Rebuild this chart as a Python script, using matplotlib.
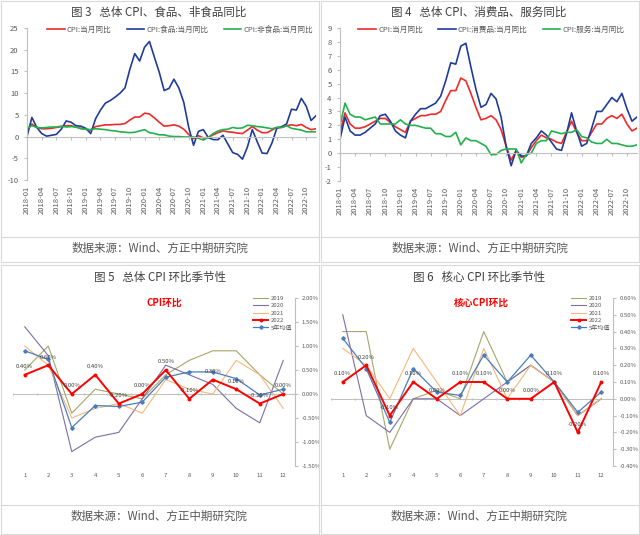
import matplotlib
matplotlib.use("Agg")
import matplotlib.pyplot as plt
from matplotlib.lines import Line2D
import numpy as np

plt.rcParams['font.family'] = ['Noto Sans CJK SC', 'DejaVu Sans']
plt.rcParams['axes.unicode_minus'] = False

# ---------------------------------------------------------------------------
# datos
# ---------------------------------------------------------------------------
months = [f"{y}-{m:02d}" for y in range(2018, 2023) for m in range(1, 13)]

cpi_yoy = [1.5, 2.9, 2.1, 1.8, 1.8, 1.9, 2.1, 2.3, 2.5, 2.5, 2.2, 1.9,
           1.7, 1.5, 2.3, 2.5, 2.7, 2.7, 2.8, 2.8, 3.0, 3.8, 4.5, 4.5,
           5.4, 5.2, 4.3, 3.3, 2.4, 2.5, 2.7, 2.4, 1.7, 0.5, -0.5, 0.2,
           -0.3, -0.2, 0.4, 0.9, 1.3, 1.1, 1.0, 0.8, 0.7, 1.5, 2.3, 1.5,
           0.9, 0.9, 1.5, 2.1, 2.1, 2.5, 2.7, 2.5, 2.8, 2.1, 1.6, 1.8]
food_yoy = [0.0, 4.4, 2.1, 0.7, 0.1, 0.3, 0.5, 1.7, 3.6, 3.3, 2.5, 2.4,
            1.9, 0.7, 4.1, 6.1, 7.7, 8.3, 9.1, 10.0, 11.2, 15.5, 19.1, 17.4,
            20.6, 21.9, 18.3, 14.8, 10.6, 11.1, 13.2, 11.2, 7.9, 2.2, -2.0, 1.2,
            1.6, -0.2, -0.7, -0.7, 0.3, -1.7, -3.7, -4.1, -5.2, -2.4, 1.6, -1.2,
            -3.8, -3.9, -1.5, 1.9, 2.3, 2.9, 6.3, 6.1, 8.8, 7.0, 3.7, 4.8]
nonfood_yoy = [1.9, 2.5, 2.1, 2.0, 2.1, 2.2, 2.2, 2.4, 2.2, 2.3, 2.2, 1.8,
               1.7, 1.6, 1.8, 1.7, 1.6, 1.4, 1.3, 1.1, 1.0, 0.9, 1.0, 1.3,
               1.6, 0.9, 0.7, 0.4, 0.4, 0.1, 0.0, 0.0, -0.1, -0.1, -0.1, -0.4,
               -0.8, -0.2, 0.7, 1.3, 1.6, 1.7, 2.1, 1.9, 2.0, 2.6, 2.5, 2.3,
               2.2, 2.0, 1.8, 2.1, 2.1, 2.5, 1.9, 1.7, 1.5, 1.1, 1.1, 1.1]
goods_yoy = [1.0, 2.6, 1.6, 1.3, 1.3, 1.5, 1.8, 2.1, 2.7, 2.8, 2.3, 1.6,
             1.3, 1.1, 2.3, 2.8, 3.2, 3.2, 3.4, 3.6, 4.1, 5.2, 6.5, 6.4,
             7.7, 7.9, 6.2, 4.6, 3.3, 3.5, 4.3, 3.9, 2.6, 0.5, -0.9, 0.2,
             -0.2, -0.2, 0.7, 1.1, 1.6, 1.3, 0.8, 0.3, 0.2, 1.4, 2.9, 1.6,
             0.5, 0.7, 1.8, 3.0, 3.0, 3.5, 4.0, 3.7, 4.3, 3.2, 2.3, 2.6]
service_yoy = [2.0, 3.6, 2.8, 2.6, 2.6, 2.4, 2.5, 2.6, 2.1, 2.1, 2.1, 2.1,
               2.4, 2.1, 2.0, 2.0, 1.9, 1.8, 1.8, 1.4, 1.4, 1.2, 1.2, 1.5,
               0.6, 1.1, 0.9, 0.9, 0.7, 0.5, -0.1, -0.1, 0.2, 0.3, 0.3, 0.3,
               -0.7, -0.1, 0.0, 0.7, 0.9, 0.9, 1.6, 1.5, 1.4, 1.5, 1.5, 1.7,
               1.2, 1.1, 0.8, 0.7, 0.7, 1.0, 0.7, 0.7, 0.6, 0.5, 0.5, 0.6]

mes = list(range(1, 13))
cpi_mom = {
    "2019": [0.5, 1.0, -0.4, 0.1, 0.0, -0.1, 0.4, 0.7, 0.9, 0.9, 0.4, 0.0],
    "2020": [1.4, 0.8, -1.2, -0.9, -0.8, -0.1, 0.6, 0.4, 0.2, -0.3, -0.6, 0.7],
    "2021": [1.0, 0.6, -0.5, -0.3, -0.2, -0.4, 0.3, 0.1, 0.0, 0.7, 0.4, -0.3],
    "2022": [0.4, 0.6, 0.0, 0.4, -0.2, 0.0, 0.5, -0.1, 0.3, 0.1, -0.2, 0.0],
    "5年均值": [0.9, 0.72, -0.7, -0.24, -0.26, -0.17, 0.35, 0.46, 0.46, 0.32, -0.02, 0.1],
}
core_mom = {
    "2019": [0.4, 0.4, -0.3, 0.0, 0.05, 0.0, 0.4, 0.1, 0.2, 0.1, -0.1, 0.0],
    "2020": [0.5, -0.1, -0.2, 0.0, 0.0, -0.1, 0.0, 0.1, 0.2, 0.1, -0.1, 0.0],
    "2021": [0.3, 0.2, 0.0, 0.3, 0.1, -0.1, 0.3, 0.0, 0.2, 0.1, -0.1, 0.0],
    "2022": [0.1, 0.2, -0.1, 0.1, 0.0, 0.1, 0.1, 0.0, 0.0, 0.1, -0.2, 0.1],
    "5年均值": [0.36, 0.18, -0.14, 0.18, 0.04, 0.02, 0.26, 0.10, 0.26, 0.10, -0.08, 0.04],
}

# ---------------------------------------------------------------------------
# figura
# ---------------------------------------------------------------------------
W, H = 640, 535
fig = plt.figure(figsize=(W / 100, H / 100), dpi=100)

def caja(l, t, r, b):
    return [l / W, 1 - b / H, (r - l) / W, (b - t) / H]

def px(x, y):
    return x / W, 1 - y / H

GRIS = '#bfbfbf'
TXT = '#595959'

# bordes de los paneles
for (x0, y0, x1, y1) in [(1, 1, 319, 262), (321, 1, 639, 262),
                         (1, 265, 319, 534), (321, 265, 639, 534)]:
    fig.add_artist(plt.Rectangle(px(x0, y1), (x1 - x0) / W, (y1 - y0) / H,
                                 fill=False, edgecolor='#d9d9d9', linewidth=0.8,
                                 transform=fig.transFigure))
for (x0, x1, y) in [(1, 319, 237), (321, 639, 237), (1, 319, 505), (321, 639, 505)]:
    fig.add_artist(Line2D([x0 / W, x1 / W], [1 - y / H] * 2, color='#d9d9d9',
                          linewidth=0.8, transform=fig.transFigure))

titulos = [("图 3   总体 CPI、食品、非食品同比", 159, 12),
           ("图 4   总体 CPI、消费品、服务同比", 479, 12),
           ("图 5   总体 CPI 环比季节性", 160, 277),
           ("图 6   核心 CPI 环比季节性", 479, 277)]
for t, x, y in titulos:
    fig.text(*px(x, y), t, ha='center', va='center', fontsize=8.3, color='#404040')

for x, y in [(160, 248), (480, 248), (159, 516), (479, 516)]:
    fig.text(*px(x, y), "数据来源：Wind、方正中期研究院", ha='center', va='center',
             fontsize=8.3, color=TXT, style='italic')

# ---------------------------------------------------------------------------
# paneles superiores (interanual)
# ---------------------------------------------------------------------------
def panel_yoy(rect, series, ylim, yticks, leg_x):
    ax = fig.add_axes(rect)
    x = np.arange(len(months))
    for vals, color, lab in series:
        ax.plot(x, vals, color=color, linewidth=1.2, label=lab)
    ax.set_xlim(0, len(months) - 1)
    ax.set_ylim(*ylim)
    ax.set_yticks(yticks)
    ax.tick_params(axis='y', labelsize=5.5, labelcolor=TXT, color=GRIS, length=2, pad=4)
    for s in ['top', 'right']:
        ax.spines[s].set_visible(False)
    ax.spines['left'].set_color(GRIS)
    ax.spines['bottom'].set_position(('data', 0))
    ax.spines['bottom'].set_color(GRIS)
    ticks = list(range(0, len(months), 3))
    ax.set_xticks(ticks)
    ax.tick_params(axis='x', labelbottom=False, color=GRIS, length=2)
    for i in ticks:
        ax.annotate(months[i], (i, ylim[0]), xytext=(0, -4), textcoords='offset points',
                    rotation=90, ha='center', va='top', fontsize=5.5, color=TXT,
                    annotation_clip=False)
    ax.legend(loc='center', bbox_to_anchor=(leg_x, 0.99), ncol=3, frameon=False,
              fontsize=5.5, handlelength=2.3, columnspacing=2.0, handletextpad=0.3,
              labelcolor=TXT)
    return ax

ROJO, AZUL, VERDE = '#ee2a2a', '#1f3d98', '#22b14c'

panel_yoy(caja(27, 28, 316, 180),
          [(cpi_yoy, ROJO, "CPI:当月同比"), (food_yoy, AZUL, "CPI:食品:当月同比"),
           (nonfood_yoy, VERDE, "CPI:非食品:当月同比")],
          (-10, 25), list(range(-10, 26, 5)), 0.53)
panel_yoy(caja(340, 28, 637, 181),
          [(cpi_yoy, ROJO, "CPI:当月同比"), (goods_yoy, AZUL, "CPI:消费品:当月同比"),
           (service_yoy, VERDE, "CPI:服务:当月同比")],
          (-2, 9), list(range(-2, 10)), 0.51)

# ---------------------------------------------------------------------------
# paneles inferiores (estacionalidad)
# ---------------------------------------------------------------------------
estilos = {
    "2019": dict(color='#a5a76a', linewidth=0.8),
    "2020": dict(color='#7d6ea6', linewidth=0.8),
    "2021": dict(color='#f6b77c', linewidth=0.8),
    "2022": dict(color='#ff0000', linewidth=1.4, marker='o', markersize=1.8),
    "5年均值": dict(color='#4a7ebb', linewidth=0.9, marker='D', markersize=1.8),
}

def panel_mom(rect, datos, ylim, yticks, titulo, leg_xy):
    ax = fig.add_axes(rect)
    for k, vals in datos.items():
        ax.plot(mes, vals, label=k, zorder=3 if k == "2022" else 2, **estilos[k])
    ax.set_xlim(0.5, 12.5)
    ax.set_ylim(*ylim)
    ax.axhline(0, color=GRIS, linewidth=0.7, zorder=1)
    ax.plot(np.arange(0.5, 13, 1), [0] * 13, linestyle='none', marker='|',
            markersize=2, color=GRIS, zorder=1)
    for s in ['top', 'left', 'bottom']:
        ax.spines[s].set_visible(False)
    ax.spines['right'].set_color(GRIS)
    ax.yaxis.tick_right()
    ax.set_yticks(yticks)
    ax.set_yticklabels([f"{v:.2f}%" for v in yticks])
    ax.tick_params(axis='y', labelsize=4.3, labelcolor=TXT, color=GRIS, length=2, pad=3)
    ax.set_xticks(mes)
    ax.tick_params(axis='x', labelsize=4.3, labelcolor=TXT, length=0, pad=5)
    for m, v in zip(mes, datos["2022"]):
        ax.annotate(f"{v:.2f}%", (m, v), xytext=(0, 4), textcoords='offset points',
                    ha='center', va='bottom', fontsize=4.3, color='#404040', zorder=4)
    ax.text(0.535, 0.97, titulo, transform=ax.transAxes, ha='center', va='center',
            fontsize=7, color='#ff0000', fontweight='bold')
    ax.legend(loc='upper left', bbox_to_anchor=leg_xy, frameon=False, fontsize=4.3,
              handlelength=2.6, handletextpad=0.4, labelspacing=0.35, borderpad=0,
              labelcolor=TXT)
    return ax

panel_mom(caja(13, 298, 295, 466), cpi_mom, (-1.5, 2.0),
          [-1.5, -1.0, -0.5, 0.0, 0.5, 1.0, 1.5, 2.0], "CPI环比", (0.84, 1.03))
panel_mom(caja(331, 298, 613, 466), core_mom, (-0.4, 0.6),
          [-0.4, -0.3, -0.2, -0.1, 0.0, 0.1, 0.2, 0.3, 0.4, 0.5, 0.6], "核心CPI环比",
          (0.84, 1.03))

fig.savefig("out.png", dpi=100, facecolor='white')
